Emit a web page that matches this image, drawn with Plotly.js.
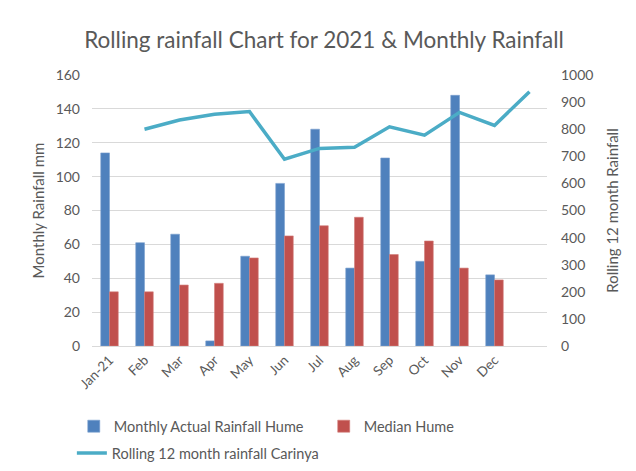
<!DOCTYPE html>
<html><head><meta charset="utf-8">
<script src="https://cdn.plot.ly/plotly-3.0.1.min.js"></script>
<style>html,body{margin:0;padding:0;background:#fff}#chart{width:636px;height:471px}</style>
</head><body><div id="chart"></div>
<script>
const categories = ['Jan-21','Feb','Mar','Apr','May','Jun','Jul','Aug','Sep','Oct','Nov','Dec',' '];
const actualHume = [114,61,66,3,53,96,128,46,111,50,148,42,null];
const medianHume = [32,32,36,37,52,65,71,76,54,62,46,39,null];
const rollingCarinya = [null,800,834,855,865,689,729,733,809,778,862,814,938];

const fontFam = 'Lato, "Open Sans", sans-serif';
const grey = '#595959';
const data = [
  {type:'bar', name:'Monthly Actual Rainfall Hume', x:categories, y:actualHume, legend:'legend',
   marker:{color:'#4f81bd', line:{color:'#7aa0cf', width:0.6}}, yaxis:'y'},
  {type:'bar', name:'Median Hume', x:categories, y:medianHume, legend:'legend3',
   marker:{color:'#c0504d', line:{color:'#d27c79', width:0.6}}, yaxis:'y'},
  {type:'scatter', mode:'lines', name:'Rolling 12 month rainfall Carinya', x:categories, y:rollingCarinya, legend:'legend2',
   line:{color:'#4bacc6', width:3.5}, yaxis:'y2', connectgaps:false}
];
const legFont = {size:14.5, color:grey, family:fontFam};
const legBase = {orientation:'h', xref:'container', yref:'container', xanchor:'left', yanchor:'middle',
                 font:legFont, itemwidth:30, bgcolor:'rgba(0,0,0,0)'};
const layout = {
  width:636, height:471,
  margin:{l:92, r:89, t:75, b:125},
  paper_bgcolor:'#fff', plot_bgcolor:'#fff',
  font:{family:fontFam, color:grey, size:14},
  title:{text:'Rolling rainfall Chart for 2021 & Monthly Rainfall', x:0.51, xanchor:'center', xref:'paper',
         y:0.915, yanchor:'middle', font:{size:22.5, color:grey, family:fontFam}},
  barmode:'group', bargap:0.5, bargroupgap:0,
  showlegend:true,
  legend:Object.assign({}, legBase, {x:0.116, y:0.095}),
  legend3:Object.assign({}, legBase, {x:0.509, y:0.095}),
  legend2:Object.assign({}, legBase, {x:0.113, y:0.038}),
  xaxis:{type:'category', categoryorder:'array', categoryarray:categories, tickangle:-45,
         showgrid:false, showline:true, linecolor:'#d9d9d9', linewidth:1, ticks:'',
         tickfont:{size:13.5, color:grey}, automargin:false},
  yaxis:{range:[0,160], dtick:20, showgrid:true, gridcolor:'#d9d9d9', gridwidth:1, zeroline:false,
         ticks:'', tickfont:{size:14,color:grey}, automargin:false, ticklabelstandoff:11,
         title:{text:'Monthly Rainfall mm', font:{size:15,color:grey}, standoff:7}},
  yaxis2:{range:[0,1000], dtick:100, overlaying:'y', side:'right', showgrid:false, zeroline:false,
          ticks:'', tickfont:{size:14,color:grey}, automargin:false, ticklabelstandoff:13,
          title:{text:'Rolling 12 month Rainfall', font:{size:15,color:grey}, standoff:15}}
};
Plotly.newPlot('chart', data, layout, {displayModeBar:false, staticPlot:true});
</script></body></html>
